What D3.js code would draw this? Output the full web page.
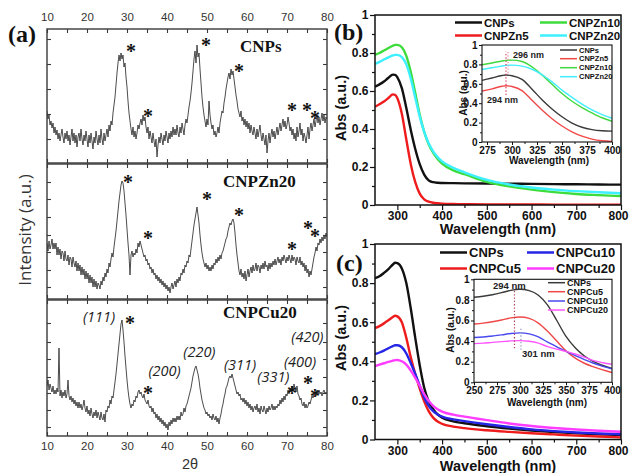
<!DOCTYPE html>
<html>
<head>
<meta charset="utf-8">
<script src="https://cdn.jsdelivr.net/npm/d3@7/dist/d3.min.js"></script>
<style>
  html, body { margin: 0; padding: 0; background: #fff; }
  svg { display: block; }
</style>
</head>
<body>
<svg id="fig" width="630" height="473" viewBox="0 0 630 473"></svg>
<script>
// ---------- (a) XRD patterns: 2θ from 10° to 80° in 0.25° steps ----------
const xrdStart = 10, xrdStep = 0.25;

const xrdCNPs = [
  52,44,48,38, 42,35,40,30, 36,28,33,24, 30,22,28,34, 26,20,30,24,
  32,22,28,18, 26,34,22,30, 20,28,16,26, 30,22,34,24, 18,28,22,32,
  24,16,28,20, 30,22,14,26, 20,32,24,18, 28,20,34,24, 18,30,22,28,
  34,26,38,32, 42,38,50,58, 66,78,90,100, 108,102,110,104, 108,96,100,86,
  76,62,50,42, 34,28,36,26, 32,24,30,38, 34,40,44,38, 48,42,46,36,
  30,36,24,32, 26,20,30,22, 16,24,6,18, 26,20,30,24, 18,28,22,32,
  26,20,30,24, 32,26,36,28, 34,28,38,30, 26,36,30,40, 34,28,38,44,
  40,48,56,62, 70,80,92,104, 112,100,118,106, 110,94,80,66, 56,48,42,36,
  44,38,62,48, 40,34,38,28, 32,26,30,36, 30,40,46,52, 50,60,66,74,
  80,86,90,84, 94,88,92,84, 76,68,62,54, 50,46,52,42, 46,38,44,36,
  42,34,40,30, 38,32,28,36, 30,24,34,26, 32,38,28,22, 30,24,18,28,
  10,22,30,20, 28,34,26,32, 24,30,36,28, 34,40,32,38, 44,36,42,34,
  38,46,40,32, 36,28,34,24, 30,22,36,26, 32,40,28,34, 22,30,26,20,
  28,36,24,34, 40,32,38,44, 36,42,48,40, 46,38,44,50, 42,48,40,46,
  44
];

const xrdCNPZn20 = [
  56,48,58,50, 54,60,50,56, 50,56,44,52, 44,50,40,48, 46,38,48,40,
  38,44,34,42, 40,32,42,36, 32,38,28,36, 28,34,24,32, 24,30,20,28,
  20,26,16,24, 16,22,12,20, 12,18,10,16, 14,10,18,14, 22,18,26,22,
  30,26,36,32, 40,46,42,52, 60,68,78,88, 98,106,114,118, 116,108,96,84,
  70,56,44,24, 44,48,42,46, 44,50,46,56, 52,58,54,50, 46,42,44,38,
  40,34,36,30, 32,26,30,24, 26,20,24,18, 22,16,20,14, 18,12,16,10,
  14,8,12,6, 12,16,10,14, 18,12,20,16, 22,18,26,24, 30,26,34,32,
  38,36,44,42, 50,58,66,74, 80,86,92,84, 76,64,54,46, 40,36,32,36,
  30,34,28,32, 28,34,30,36, 34,40,36,42, 38,44,40,46, 48,52,56,60,
  62,68,72,76, 74,78,80,76, 66,54,44,36, 28,24,30,22, 26,20,28,18,
  24,30,22,28, 32,26,34,28, 30,36,28,34, 32,26,34,30, 36,30,38,32,
  34,28,36,30, 36,32,38,34, 40,34,38,42, 36,40,34,42, 38,44,40,36,
  42,38,44,40, 36,44,38,42, 40,34,42,38, 36,42,34,38, 32,36,28,34,
  26,30,22,28, 24,30,36,42, 46,52,48,56, 54,60,56,62, 58,64,60,66,
  62
];

const xrdCNPCu20 = [
  50,56,46,52, 48,44,50,42, 46,42,48,44, 88,40,46,38, 44,40,46,38,
  42,56,40,36, 40,34,38,32, 36,30,34,28, 34,28,32,26, 30,36,28,24,
  30,22,26,20, 28,22,18,24, 20,26,18,24, 20,16,24,18, 16,22,14,26,
  24,30,28,36, 32,40,38,46, 54,62,72,82, 92,102,112,116, 106,94,80,68,
  56,46,38,32, 28,32,30,36, 34,40,38,44, 46,42,44,40, 38,42,36,34,
  32,36,30,28, 30,24,28,22, 24,18,22,16, 20,14,18,12, 16,10,14,8,
  12,6,14,10, 16,12,18,14, 18,14,20,16, 20,16,24,20, 22,28,24,30,
  32,36,40,44, 48,54,60,64, 68,70,66,62, 56,48,42,36, 32,28,26,22,
  24,20,22,18, 20,16,22,18, 16,20,14,18, 12,18,22,28, 32,38,42,48,
  50,54,58,60, 58,62,58,54, 50,46,42,44, 40,42,36,38, 34,38,32,36,
  30,34,28,32, 26,30,24,28, 30,26,32,24, 28,22,30,26, 24,30,26,22,
  28,24,30,26, 28,32,26,30, 26,30,28,32, 30,36,32,38, 34,40,36,42,
  40,46,42,48, 44,50,46,52, 48,44,50,42, 40,36,38,32, 30,34,28,32,
  28,30,34,32, 36,40,38,42, 44,40,46,42, 46,42,44,40, 44,46,42,44,
  42
];

// peak markers [2θ, intensity]
const starsCNPs   = [[31.0,115],[35.25,50],[49.75,121],[58,95],[71.25,56],[75,56],[77,48]];
const starsZn20   = [[30.25,120],[35.25,64],[50,103],[58,87],[71.25,53],[75.25,74],[77,66]];
const starsCu20   = [[30.75,116],[35.25,46],[71.25,46],[75.25,56],[77,43]];

// fluorite reflections labelled on the CNPCu20 pattern [2θ, intensity]
const millerLabels = ["(111)","(200)","(220)","(311)","(331)","(400)","(420)"];
const millerAt     = [[23,114],[39.4,60],[48.1,79],[58.25,66],[66.6,54],[73.25,69],[75.1,94]];

// intensity ticks of the three stacked frames
const ticksCNPs = [124,99,74,49,24];
const ticksZn20 = [117,100,82,64,47,29,12];
const ticksCu20 = [113,94,77,59,43,26,9];
const xrdAngleTicks  = [10,15,20,25,30,35,40,45,50,55,60,65,70,75,80];
const xrdAngleLabels = [10,20,30,40,50,60,70,80];

// ---------- (b) Zn-doped UV-vis ----------
const uvWavelengths = [250,260,270,280,290,295,300,310,320,330,340,350,360,370,380,390,400,425,450,500,550,600,650,700,750,800];
const znNames = ["CNPs","CNPZn5","CNPZn10","CNPZn20"];
const absZnCNPs   = [.623,.635,.65,.67,.686,.685,.672,.615,.51,.395,.295,.215,.16,.13,.12,.117,.116,.115,.114,.113,.112,.111,.11,.109,.108,.107];
const absZn5      = [.517,.53,.545,.563,.582,.58,.562,.48,.345,.215,.12,.06,.03,.018,.012,.009,.007,.005,.004,.003,.003,.003,.002,.002,.002,.002];
const absZn10     = [.79,.80,.813,.826,.838,.843,.843,.83,.785,.70,.59,.475,.385,.32,.275,.242,.218,.182,.162,.122,.098,.081,.068,.058,.052,.047];
const absZn20     = [.742,.753,.766,.777,.787,.79,.79,.778,.74,.665,.565,.465,.385,.325,.282,.252,.23,.195,.172,.132,.108,.092,.081,.073,.067,.062];

const insetZnWavelengths = [270,280,290,294,300,310,320,330,340,350,360,370,380,390,400];
const insetZnCNPs = [.635,.66,.685,.69,.683,.645,.545,.435,.34,.26,.195,.152,.128,.116,.112];
const insetZn5    = [.525,.548,.575,.58,.572,.53,.43,.33,.24,.165,.105,.06,.03,.013,.006];
const insetZn10   = [.797,.815,.835,.842,.844,.83,.775,.69,.595,.50,.42,.355,.30,.25,.213];
const insetZn20   = [.748,.765,.783,.79,.793,.782,.75,.695,.62,.535,.46,.39,.33,.283,.245];

// ---------- (c) Cu-doped UV-vis ----------
const cuNames = ["CNPs","CNPCu5","CNPCu10","CNPCu20"];
const absCuCNPs = [.825,.835,.852,.872,.895,.904,.902,.875,.80,.67,.52,.38,.265,.195,.155,.128,.112,.093,.083,.068,.056,.046,.038,.032,.027,.023];
const absCu5    = [.57,.58,.594,.61,.627,.633,.63,.60,.52,.42,.335,.26,.195,.145,.112,.092,.08,.066,.058,.047,.039,.032,.026,.02,.015,.011];
const absCu10   = [.437,.445,.455,.467,.478,.482,.482,.472,.44,.39,.335,.275,.215,.172,.145,.128,.117,.103,.094,.078,.064,.052,.043,.036,.031,.027];
const absCu20   = [.376,.383,.39,.397,.403,.406,.407,.40,.383,.352,.315,.275,.232,.198,.172,.155,.143,.127,.117,.099,.082,.069,.059,.051,.045,.04];

const insetCuWavelengths = [250,260,270,280,290,300,310,320,330,340,350,360,370,380,390,400];
const insetCuCNPs = [.825,.835,.85,.87,.893,.903,.89,.845,.75,.60,.445,.335,.255,.20,.163,.135];
const insetCu5    = [.566,.575,.588,.605,.625,.634,.62,.575,.495,.40,.305,.235,.185,.15,.12,.095];
const insetCu10   = [.435,.44,.45,.46,.474,.48,.47,.44,.39,.345,.30,.26,.22,.185,.155,.13];
const insetCu20   = [.375,.38,.388,.395,.402,.405,.398,.38,.347,.322,.30,.275,.245,.21,.19,.175];

// absorption maxima marked in the insets: [wavelength, from Abs, to Abs]
const znMaxima = [[294, .485, .93], [296, .71, .93]];
const cuMaxima = [[294, .33, .90], [301, .315, .54]];

// ======================================================================
const svg = d3.select("#fig");
const SANS = "'Liberation Sans', Arial, Helvetica, sans-serif";
const SERIF = "'Liberation Serif', 'Times New Roman', serif";
const defs = svg.append("defs");
let clipId = 0;
function clipRect(x, y, w, h) {
  const id = "clip" + (clipId++);
  defs.append("clipPath").attr("id", id).append("rect")
    .attr("x", x).attr("y", y).attr("width", w).attr("height", h);
  return "url(#" + id + ")";
}
function styleAxis(g, opt) {
  g.select(".domain").remove();
  g.selectAll(".tick line").attr("stroke", opt.stroke || "#111").attr("stroke-width", opt.tw || 1);
  g.selectAll(".tick text")
    .attr("font-family", opt.family || SANS)
    .attr("font-weight", opt.weight || "bold")
    .attr("font-size", opt.size || 12)
    .attr("fill", opt.fill || "#111");
}

// ---------------------------- panel (a) ----------------------------
const ax = d3.scaleLinear().domain([10, 80]).range([47, 327]);
const xrdFrames = [
  { name: "CNPs",    values: xrdCNPs,    stars: starsCNPs, ticks: ticksCNPs, top: 29,  bottom: 163, nameX: 240, nameY: 52 },
  { name: "CNPZn20", values: xrdCNPZn20, stars: starsZn20, ticks: ticksZn20, top: 164, bottom: 299, nameX: 223, nameY: 187 },
  { name: "CNPCu20", values: xrdCNPCu20, stars: starsCu20, ticks: ticksCu20, top: 300, bottom: 436, nameX: 223, nameY: 318 }
];
const frameColor = "#3a3a3a";
const gA = svg.append("g");

xrdFrames.forEach((f, k) => {
  const y = d3.scaleLinear().domain([0, f.bottom - f.top]).range([f.bottom, f.top]);
  const g = gA.append("g");
  const line = d3.line().x((d, i) => ax(xrdStart + i * xrdStep)).y(d => y(d));
  g.append("path").datum(f.values)
    .attr("clip-path", clipRect(47, f.top, 280, f.bottom - f.top))
    .attr("d", line).attr("fill", "none")
    .attr("stroke", "#383838").attr("stroke-width", 0.9).attr("stroke-linejoin", "round");

  // inward ticks on all four sides
  const tOpt = { stroke: frameColor, tw: 1.1 };
  g.append("g").attr("transform", "translate(47,0)")
    .call(d3.axisLeft(y).tickValues(f.ticks).tickSize(-4).tickFormat("")).call(s => styleAxis(s, tOpt));
  g.append("g").attr("transform", "translate(327,0)")
    .call(d3.axisRight(y).tickValues(f.ticks).tickSize(-4).tickFormat("")).call(s => styleAxis(s, tOpt));
  g.append("g").attr("transform", `translate(0,${f.top})`)
    .call(d3.axisTop(ax).tickValues(xrdAngleTicks).tickSize(-4).tickFormat("")).call(s => styleAxis(s, tOpt));
  g.append("g").attr("transform", `translate(0,${f.bottom})`)
    .call(d3.axisBottom(ax).tickValues(xrdAngleTicks).tickSize(-4).tickFormat("")).call(s => styleAxis(s, tOpt));

  g.append("rect").attr("x", 47).attr("y", f.top).attr("width", 280).attr("height", f.bottom - f.top)
    .attr("fill", "none").attr("stroke", frameColor).attr("stroke-width", 1.4);

  // peak markers
  g.selectAll("text.star").data(f.stars).join("text").attr("class", "star")
    .attr("x", d => ax(d[0])).attr("y", d => y(d[1]) + 10)
    .attr("text-anchor", "middle").attr("font-family", SERIF).attr("font-weight", "bold")
    .attr("font-size", 20).attr("fill", "#111").text("*");

  g.append("text").attr("x", f.nameX).attr("y", f.nameY)
    .attr("font-family", SERIF).attr("font-weight", "bold").attr("font-size", 17)
    .attr("fill", "#111").text(f.name);

  if (k === 2) {
    g.selectAll("text.hkl").data(millerLabels).join("text").attr("class", "hkl")
      .attr("x", (d, i) => ax(millerAt[i][0])).attr("y", (d, i) => y(millerAt[i][1]))
      .attr("text-anchor", "middle").attr("font-family", "'Open Sans', sans-serif")
      .attr("font-style", "italic").attr("font-size", 14.5).attr("fill", "#222").text(d => d);
  }
});

// angle labels top and bottom
gA.append("g").attr("transform", "translate(0,29)")
  .call(d3.axisTop(ax).tickValues(xrdAngleLabels).tickSize(0).tickPadding(8.5))
  .call(s => styleAxis(s, { weight: "normal", size: 11.5, fill: "#333" }));
gA.append("g").attr("transform", "translate(0,436)")
  .call(d3.axisBottom(ax).tickValues(xrdAngleLabels).tickSize(0).tickPadding(6))
  .call(s => styleAxis(s, { weight: "normal", size: 11.5, fill: "#333" }));
gA.append("text").attr("x", 190).attr("y", 469).attr("text-anchor", "middle")
  .attr("font-family", SANS).attr("font-size", 14.5).attr("fill", "#333").text("2θ");
gA.append("text").attr("transform", "translate(25,230) rotate(-90)").attr("dy", "0.35em")
  .attr("text-anchor", "middle").attr("font-family", "'Open Sans', sans-serif")
  .attr("font-size", 17).attr("fill", "#333").text("Intensity (a.u.)");
gA.append("text").attr("x", 8).attr("y", 42).attr("font-family", SERIF).attr("font-weight", "bold")
  .attr("font-size", 24).attr("fill", "#111").text("(a)");

// ------------------------ panels (b) and (c) ------------------------
function uvPlot(o) {
  const g = svg.append("g");
  const x = d3.scaleLinear().domain(o.xDomain).range([o.left, o.right]);
  const y = d3.scaleLinear().domain([0, 1]).range([o.bottom, o.top]);
  if (o.background) {
    g.append("rect").attr("x", o.left).attr("y", o.top).attr("width", o.right - o.left)
      .attr("height", o.bottom - o.top).attr("fill", "#fff");
  }
  // ticks (outward)
  const ax1 = { size: o.tickFont, tw: o.tickWidth };
  g.append("g").attr("transform", `translate(0,${o.bottom})`)
    .call(d3.axisBottom(x).tickValues(o.xMinor).tickSize(o.minorLen).tickFormat(""))
    .call(s => styleAxis(s, ax1));
  const xg = g.append("g").attr("transform", `translate(0,${o.bottom})`)
    .call(d3.axisBottom(x).tickValues(o.xMajor).tickSize(o.majorLen).tickPadding(o.pad))
    .call(s => styleAxis(s, ax1));
  if (o.lastLabelShift) {
    xg.selectAll(".tick text").filter(d => d === o.xDomain[1]).attr("dx", o.lastLabelShift);
  }
  g.append("g").attr("transform", `translate(${o.left},0)`)
    .call(d3.axisLeft(y).tickValues([.1, .3, .5, .7, .9]).tickSize(o.minorLen).tickFormat(""))
    .call(s => styleAxis(s, ax1));
  g.append("g").attr("transform", `translate(${o.left},0)`)
    .call(d3.axisLeft(y).tickValues([0, .2, .4, .6, .8, 1]).tickSize(o.majorLen).tickPadding(o.pad)
      .tickFormat(d => (d === 0 || d === 1) ? String(d) : d.toFixed(1)))
    .call(s => styleAxis(s, ax1));

  // curves
  const clip = clipRect(o.left, o.top - 2, o.right - o.left, o.bottom - o.top + 2);
  o.series.forEach(s => {
    const line = d3.line().x((d, i) => x(o.wl[i])).y(d => y(d)).curve(d3.curveMonotoneX);
    g.append("path").datum(s.values).attr("clip-path", clip)
      .attr("d", line).attr("fill", "none").attr("stroke", s.color)
      .attr("stroke-width", o.lineWidth).attr("stroke-linejoin", "round");
  });

  // marked maxima
  (o.maxima || []).forEach((m, i) => {
    g.append("line").attr("x1", x(m[0])).attr("x2", x(m[0])).attr("y1", y(m[1])).attr("y2", y(m[2]))
      .attr("stroke", o.maximaColors[i]).attr("stroke-width", 1.2).attr("stroke-dasharray", "1.3,2");
  });
  (o.notes || []).forEach(n => {
    g.append("text").attr("x", x(n.at[0])).attr("y", y(n.at[1]))
      .attr("font-family", SANS).attr("font-weight", "bold").attr("font-size", o.noteFont)
      .attr("fill", "#222").text(n.text);
  });

  // frame
  g.append("rect").attr("x", o.left).attr("y", o.top).attr("width", o.right - o.left)
    .attr("height", o.bottom - o.top).attr("fill", "none").attr("stroke", "#111").attr("stroke-width", o.frameWidth);

  // axis titles
  g.append("text").attr("x", o.xTitle[0]).attr("y", o.xTitle[1]).attr("text-anchor", "middle")
    .attr("font-family", SANS).attr("font-weight", "bold").attr("font-size", o.titleFont)
    .attr("fill", "#111").text("Wavelength (nm)");
  g.append("text").attr("transform", `translate(${o.yTitle[0]},${o.yTitle[1]}) rotate(-90)`).attr("dy", "0.35em")
    .attr("text-anchor", "middle").attr("font-family", SANS).attr("font-weight", "bold")
    .attr("font-size", o.titleFont).attr("fill", "#111").text("Abs (a.u.)");

  // legend
  o.series.forEach((s, i) => {
    const p = o.legend.pos[i];
    g.append("line").attr("x1", p[0]).attr("x2", p[0] + o.legend.len).attr("y1", p[1]).attr("y2", p[1])
      .attr("stroke", s.color).attr("stroke-width", o.legend.width);
    g.append("text").attr("x", p[0] + o.legend.len + 2).attr("y", p[1]).attr("dy", "0.35em")
      .attr("font-family", SANS).attr("font-weight", "bold").attr("font-size", o.legend.font)
      .attr("fill", "#111").text(s.name);
  });
  return g;
}

const mainColors  = ["#111111", "#ee1c1c", "#3ddc3d", "#3ef0ff"];
const insetColors = ["#3a3a3a", "#f04848", "#3fd83f", "#44eeff"];
const cuMain  = ["#111111", "#ee1c1c", "#2626e6", "#ff3cff"];
const cuInset = ["#3a3a3a", "#f04848", "#4848ee", "#ff55ff"];

// (b) main
uvPlot({
  xDomain: [250, 800], left: 375, right: 621, top: 15, bottom: 205,
  xMajor: [300, 400, 500, 600, 700, 800], xMinor: [350, 450, 550, 650, 750],
  majorLen: 5, minorLen: 3, pad: 1.5, tickFont: 12, tickWidth: 1.2, frameWidth: 1.5, lastLabelShift: -3,
  wl: uvWavelengths, lineWidth: 2.4,
  series: [absZnCNPs, absZn5, absZn10, absZn20].map((v, i) => ({ name: znNames[i], values: v, color: mainColors[i] })),
  xTitle: [498, 234], yTitle: [341, 108], titleFont: 14.5,
  legend: { pos: [[455, 22.5], [455, 35.5], [540, 22.5], [540, 35.5]], len: 27, width: 2.5, font: 11.5 }
});
// (b) inset
uvPlot({
  xDomain: [270, 400], left: 482, right: 612, top: 45, bottom: 142, background: true,
  xMajor: [275, 300, 325, 350, 375, 400], xMinor: [287.5, 312.5, 337.5, 362.5, 387.5],
  majorLen: 3, minorLen: 2, pad: 1.5, tickFont: 10, tickWidth: 1, frameWidth: 1.1,
  wl: insetZnWavelengths, lineWidth: 1.4,
  series: [insetZnCNPs, insetZn5, insetZn10, insetZn20].map((v, i) => ({ name: znNames[i], values: v, color: insetColors[i] })),
  maxima: znMaxima, maximaColors: ["#d83a5a", "#e890a0"],
  notes: [{ text: "296 nm", at: [301, .87] }, { text: "294 nm", at: [275, .40] }], noteFont: 9,
  xTitle: [549, 163.5], yTitle: [463, 93], titleFont: 10,
  legend: { pos: [[560, 50], [560, 58.7], [560, 67.7], [560, 76.7]], len: 17, width: 1.5, font: 7.5 }
});

// (c) main
uvPlot({
  xDomain: [250, 800], left: 375, right: 621, top: 244, bottom: 439.5,
  xMajor: [300, 400, 500, 600, 700, 800], xMinor: [350, 450, 550, 650, 750],
  majorLen: 5, minorLen: 3, pad: 1.5, tickFont: 12, tickWidth: 1.2, frameWidth: 1.5, lastLabelShift: -3,
  wl: uvWavelengths, lineWidth: 2.4,
  series: [absCuCNPs, absCu5, absCu10, absCu20].map((v, i) => ({ name: cuNames[i], values: v, color: cuMain[i] })),
  xTitle: [498, 470.5], yTitle: [341, 338], titleFont: 14.5,
  legend: { pos: [[440, 252.5], [440, 268.5], [527, 252.5], [527, 268.5]], len: 27, width: 2.5, font: 13 }
});
// (c) inset
uvPlot({
  xDomain: [250, 400], left: 474, right: 612, top: 279.3, bottom: 382.3, background: true,
  xMajor: [250, 275, 300, 325, 350, 375, 400], xMinor: [262.5, 287.5, 312.5, 337.5, 362.5, 387.5],
  majorLen: 3, minorLen: 2, pad: 1.5, tickFont: 10, tickWidth: 1, frameWidth: 1.1,
  wl: insetCuWavelengths, lineWidth: 1.4,
  series: [insetCuCNPs, insetCu5, insetCu10, insetCu20].map((v, i) => ({ name: cuNames[i], values: v, color: cuInset[i] })),
  maxima: cuMaxima, maximaColors: ["#b0405a", "#8a98b8"],
  notes: [{ text: "294 nm", at: [270.7, .905] }, { text: "301 nm", at: [302.2, .245] }], noteFont: 9.5,
  xTitle: [547, 405.5], yTitle: [450, 330], titleFont: 10,
  legend: { pos: [[548, 282.7], [548, 291.7], [548, 301], [548, 310]], len: 17, width: 1.5, font: 9 }
});

svg.append("text").attr("x", 334).attr("y", 40).attr("font-family", SERIF).attr("font-weight", "bold")
  .attr("font-size", 24).attr("fill", "#111").text("(b)");
svg.append("text").attr("x", 336).attr("y", 271).attr("font-family", SERIF).attr("font-weight", "bold")
  .attr("font-size", 24).attr("fill", "#111").text("(c)");
</script>
</body>
</html>
